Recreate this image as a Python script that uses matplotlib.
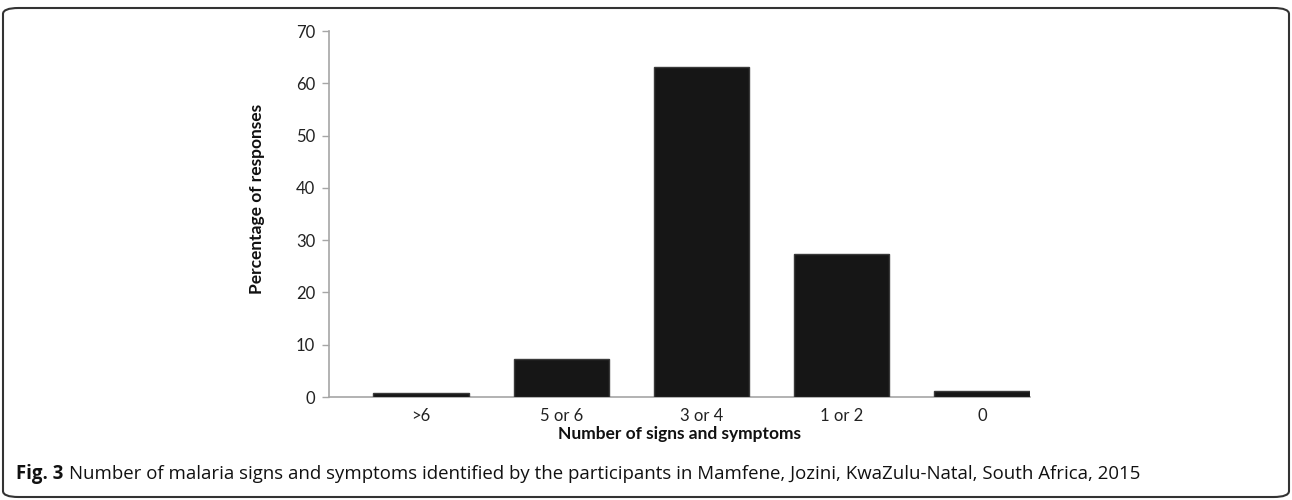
import matplotlib
matplotlib.use('Agg')
import matplotlib.pyplot as plt
from matplotlib.patches import FancyBboxPatch

categories = ['>6', '5 or 6', '3 or 4', '1 or 2', '0']
percent = [0.8, 7.2, 63.2, 27.4, 1.2]
y_ticks = [0, 10, 20, 30, 40, 50, 60, 70]

CHART_FONT = ['Lato', 'DejaVu Sans']
CAPTION_FONT = ['Open Sans', 'DejaVu Sans']
GREY = '#a6a6a6'

fig = plt.figure(figsize=(12.92, 5.0), dpi=100)
W, H = 1292, 500

# axes in pixel positions: x 329..1030, y 31..397
ax = fig.add_axes([329 / W, 1 - 397 / H, (1030 - 329) / W, (397 - 31) / H])

x = list(range(len(categories)))
ax.bar(x, percent, width=0.68, color='#161616', edgecolor='#3a3a3a', linewidth=1.0, zorder=3)

ax.set_xlim(-0.656, 4.342)
ax.set_ylim(0, 70)
ax.set_yticks(y_ticks)
ax.set_yticklabels([str(t) for t in y_ticks], family=CHART_FONT, fontsize=12, color='#222222')
ax.set_xticks(x)
ax.set_xticklabels(categories, family=CHART_FONT, fontsize=12, color='#222222')

for side in ['top', 'right']:
    ax.spines[side].set_visible(False)
for side in ['left', 'bottom']:
    ax.spines[side].set_color(GREY)
    ax.spines[side].set_linewidth(1.2)
ax.tick_params(axis='y', length=5, width=1.0, color=GREY, pad=5)
ax.tick_params(axis='x', length=0, pad=8)

ax.set_ylabel('Percentage of responses', family=CHART_FONT, fontsize=12.5,
              fontweight='bold', color='#111111')
ax.yaxis.set_label_coords(-0.091, 0.54)
ax.set_xlabel('Number of signs and symptoms', family=CHART_FONT, fontsize=12.5,
              fontweight='bold', color='#111111', labelpad=1)

# caption: bold "Fig. 3" followed by the plain text
cap_y = 1 - 474 / H
t1 = fig.text(16 / W, cap_y, 'Fig. 3', family=CAPTION_FONT, fontsize=13.4,
              fontweight='bold', color='#111111', va='center', ha='left')
fig.canvas.draw()
bb = t1.get_window_extent()
fig.text((bb.x1 + 6) / W, cap_y,
         'Number of malaria signs and symptoms identified by the participants in Mamfene, '
         'Jozini, KwaZulu-Natal, South Africa, 2015',
         family=CAPTION_FONT, fontsize=13.4, color='#111111', va='center', ha='left')

# rounded frame round the whole figure
frame = FancyBboxPatch((3 / W, 3 / H), (W - 6) / W, (H - 11) / H,
                       boxstyle='round,pad=0,rounding_size=0.012',
                       transform=fig.transFigure, fill=False,
                       edgecolor='#333333', linewidth=1.5)
fig.patches.append(frame)

fig.savefig('out.png', dpi=100)
